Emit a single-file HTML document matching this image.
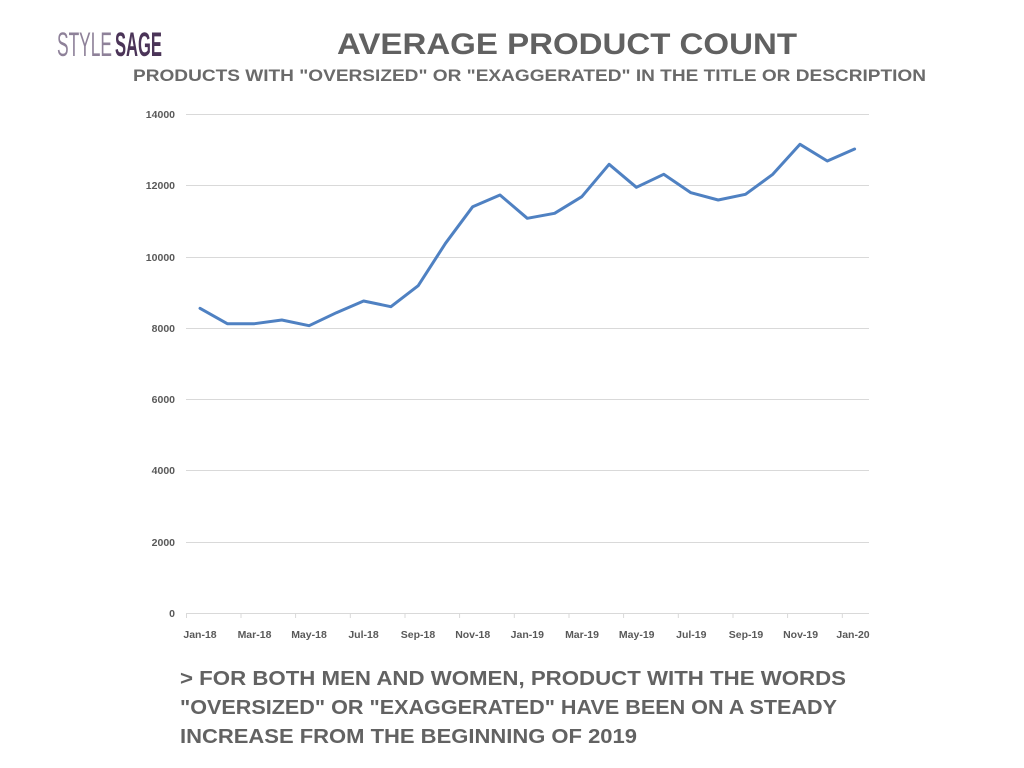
<!DOCTYPE html>
<html>
<head>
<meta charset="utf-8">
<style>
  html,body{margin:0;padding:0;background:#fff;}
  svg{display:block;}
</style>
</head>
<body>
<svg width="1024" height="768" viewBox="0 0 1024 768" xmlns="http://www.w3.org/2000/svg">
  <rect width="1024" height="768" fill="#ffffff"/>

  <!-- Logo -->
  <text x="57" y="56" font-family="Liberation Sans, sans-serif" font-size="34" fill="#8e8199" textLength="55" lengthAdjust="spacingAndGlyphs">STYLE</text>
  <text x="115" y="56" font-family="Liberation Sans, sans-serif" font-weight="bold" font-size="34" fill="#4b3458" textLength="47" lengthAdjust="spacingAndGlyphs">SAGE</text>

  <!-- Title -->
  <text x="337" y="54" font-family="Liberation Sans, sans-serif" font-weight="bold" font-size="30" fill="#616161" textLength="460" lengthAdjust="spacingAndGlyphs">AVERAGE PRODUCT COUNT</text>
  <text x="133" y="81" font-family="Liberation Sans, sans-serif" font-weight="bold" font-size="16.5" fill="#6a6a6a" textLength="793" lengthAdjust="spacingAndGlyphs">PRODUCTS WITH "OVERSIZED" OR "EXAGGERATED" IN THE TITLE OR DESCRIPTION</text>

  <!-- Gridlines -->
  <g stroke="#d9d9d9" stroke-width="1">
    <line x1="186" y1="114.5" x2="869" y2="114.5"/>
    <line x1="186" y1="185.5" x2="869" y2="185.5"/>
    <line x1="186" y1="257.5" x2="869" y2="257.5"/>
    <line x1="186" y1="328.5" x2="869" y2="328.5"/>
    <line x1="186" y1="399.5" x2="869" y2="399.5"/>
    <line x1="186" y1="470.5" x2="869" y2="470.5"/>
    <line x1="186" y1="542.5" x2="869" y2="542.5"/>
    <line x1="186" y1="613.5" x2="869" y2="613.5"/>
  </g>
  <!-- x ticks -->
  <g stroke="#d9d9d9" stroke-width="1">
    <line x1="186.5" y1="613" x2="186.5" y2="618"/>
    <line x1="241" y1="613" x2="241" y2="618"/>
    <line x1="295.6" y1="613" x2="295.6" y2="618"/>
    <line x1="350.3" y1="613" x2="350.3" y2="618"/>
    <line x1="405" y1="613" x2="405" y2="618"/>
    <line x1="459.6" y1="613" x2="459.6" y2="618"/>
    <line x1="514.3" y1="613" x2="514.3" y2="618"/>
    <line x1="569" y1="613" x2="569" y2="618"/>
    <line x1="623.6" y1="613" x2="623.6" y2="618"/>
    <line x1="678.3" y1="613" x2="678.3" y2="618"/>
    <line x1="733" y1="613" x2="733" y2="618"/>
    <line x1="787.6" y1="613" x2="787.6" y2="618"/>
    <line x1="842.3" y1="613" x2="842.3" y2="618"/>
  </g>

  <!-- Y labels -->
  <g font-family="Liberation Sans, sans-serif" font-weight="bold" font-size="10.5" fill="#595959" text-anchor="end">
    <text x="175" y="118">14000</text>
    <text x="175" y="189">12000</text>
    <text x="175" y="261">10000</text>
    <text x="175" y="332">8000</text>
    <text x="175" y="403">6000</text>
    <text x="175" y="474">4000</text>
    <text x="175" y="546">2000</text>
    <text x="175" y="617">0</text>
  </g>

  <!-- X labels -->
  <g font-family="Liberation Sans, sans-serif" font-weight="bold" font-size="10.5" fill="#595959" text-anchor="middle">
    <text x="200" y="638">Jan-18</text>
    <text x="254.5" y="638">Mar-18</text>
    <text x="309" y="638">May-18</text>
    <text x="363.5" y="638">Jul-18</text>
    <text x="418" y="638">Sep-18</text>
    <text x="472.7" y="638">Nov-18</text>
    <text x="527.3" y="638">Jan-19</text>
    <text x="582" y="638">Mar-19</text>
    <text x="636.7" y="638">May-19</text>
    <text x="691.3" y="638">Jul-19</text>
    <text x="746" y="638">Sep-19</text>
    <text x="800.6" y="638">Nov-19</text>
    <text x="853" y="638">Jan-20</text>
  </g>

  <!-- Series -->
  <polyline fill="none" stroke="#4f81c2" stroke-width="3" stroke-linejoin="round" stroke-linecap="round"
    points="200,308.3 227.3,323.7 254.5,323.7 281.8,320 309.1,325.7 336.4,312.7 363.6,301 390.9,306.7 418.2,285.7 445.5,243.3 472.7,206.7 500,195 527.3,218.3 554.6,213.3 581.8,196.7 609.1,164.3 636.4,187.3 663.7,174.3 690.9,192.7 718.2,200 745.5,194.3 772.8,174.3 800,144.3 827.3,161 854.6,149"/>

  <!-- Bottom text -->
  <g font-family="Liberation Sans, sans-serif" font-weight="bold" font-size="20" fill="#626262">
    <text x="180" y="685" textLength="666" lengthAdjust="spacingAndGlyphs">&gt; FOR BOTH MEN AND WOMEN, PRODUCT WITH THE WORDS</text>
    <text x="180" y="714" textLength="657" lengthAdjust="spacingAndGlyphs">"OVERSIZED" OR "EXAGGERATED" HAVE BEEN ON A STEADY</text>
    <text x="180" y="743" textLength="457" lengthAdjust="spacingAndGlyphs">INCREASE FROM THE BEGINNING OF 2019</text>
  </g>
</svg>
</body>
</html>
